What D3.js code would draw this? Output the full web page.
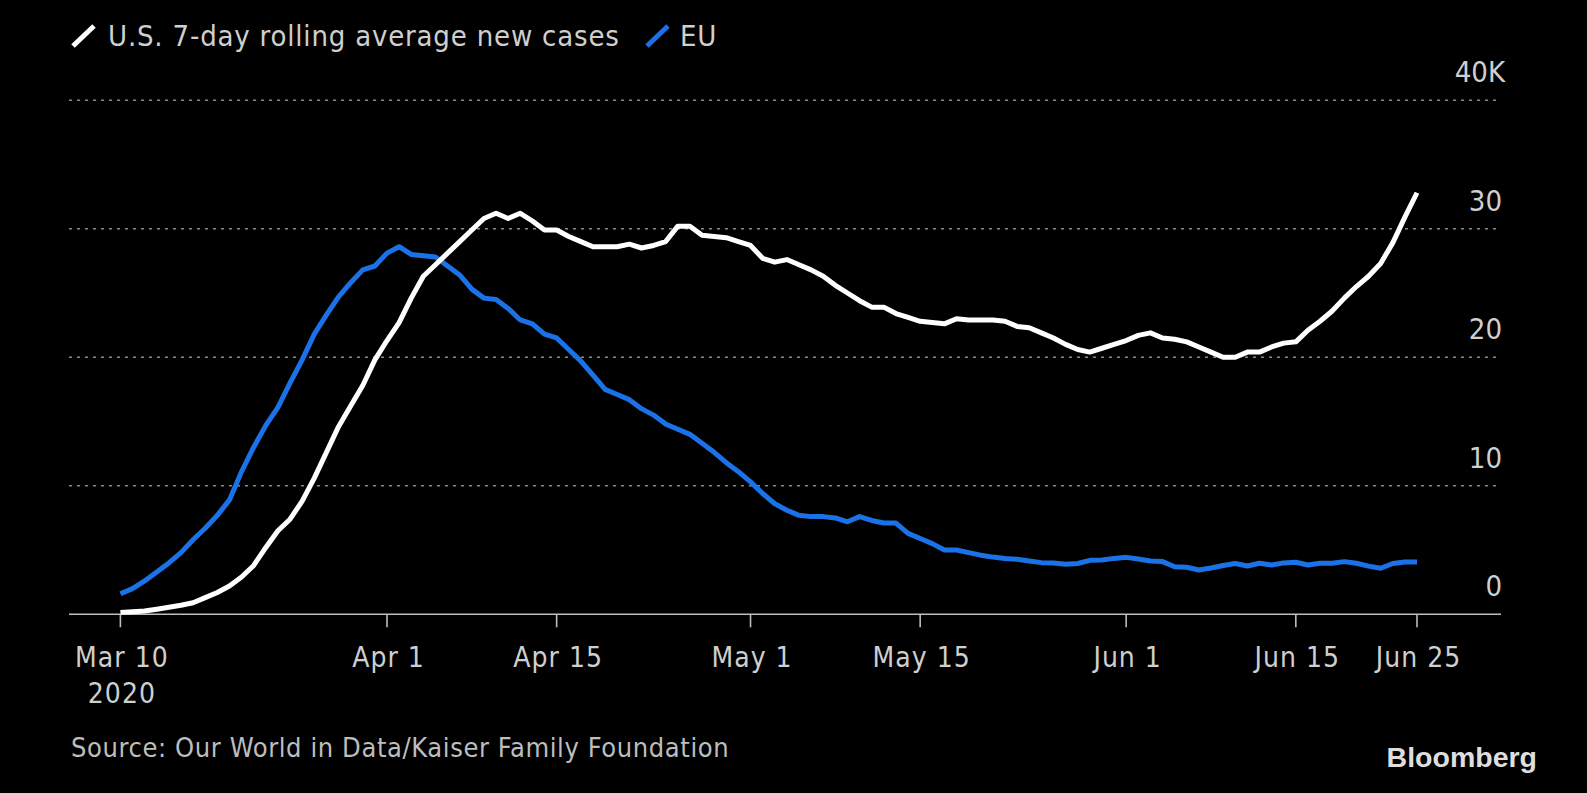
<!DOCTYPE html>
<html lang="en">
<head>
<meta charset="UTF-8">
<title>U.S. vs EU new cases</title>
<style>
    body{ margin:0; background:#000; }
    svg{ display:block; background:#000; }
    text{ font-family:"DejaVu Sans Condensed","DejaVu Sans",sans-serif; font-stretch:condensed; fill:#cfcfcf; }
    .grid line{ stroke:#8a8a8a; stroke-width:1.6; stroke-dasharray:3 5; }
    .baseline{ stroke:#bdbdbd; stroke-width:1.6; }
    .tick{ stroke:#bdbdbd; stroke-width:1.6; }
    .us{ fill:none; stroke:#ffffff; stroke-width:5; stroke-linejoin:round; }
    .eu{ fill:none; stroke:#1b72e8; stroke-width:5; stroke-linejoin:round; }
    .brand{ font-family:"Liberation Sans",Arial,sans-serif; font-weight:bold; font-stretch:normal; fill:#dedede; }
</style>
<script src="https://cdn.jsdelivr.net/npm/d3@7"></script>
</head>
<body>
<script>
    // daily values, thousands of new cases, Mar 10 .. Jun 25 2020
    const startDate = "2020-03-10";
    const usCases = [
        0.15,0.2,0.25,0.4,0.55,0.7,0.9,1.3,1.7,2.2,
        2.9,3.8,5.2,6.5,7.4,8.8,10.6,12.6,14.6,16.2,
        17.8,19.8,21.3,22.7,24.6,26.3,27.2,28.1,29.0,29.9,
        30.8,31.2,30.8,31.2,30.6,29.9,29.9,29.4,29.0,28.6,
        28.6,28.6,28.8,28.5,28.7,29.0,30.2,30.2,29.5,29.4,
        29.3,29.0,28.7,27.7,27.4,27.6,27.2,26.8,26.3,25.6,
        25.0,24.4,23.9,23.9,23.4,23.1,22.8,22.7,22.6,23.0,
        22.9,22.9,22.9,22.8,22.4,22.3,21.9,21.5,21.0,20.6,
        20.4,20.7,21.0,21.3,21.7,21.9,21.5,21.4,21.2,20.8,
        20.4,20.0,20.0,20.4,20.4,20.8,21.1,21.2,22.1,22.8,
        23.6,24.6,25.5,26.3,27.3,28.9,30.9,32.8
    ];
    const euCases = [
        1.6,2.0,2.6,3.3,4.0,4.8,5.8,6.7,7.7,8.9,
        11.1,13.0,14.7,16.1,18.0,19.8,21.8,23.3,24.7,25.8,
        26.8,27.1,28.1,28.6,28.0,27.9,27.8,27.1,26.4,25.3,
        24.6,24.5,23.8,22.9,22.6,21.8,21.5,20.6,19.7,18.6,
        17.5,17.1,16.7,16.0,15.5,14.8,14.4,14.0,13.3,12.6,
        11.8,11.1,10.3,9.4,8.6,8.1,7.7,7.6,7.6,7.5,
        7.2,7.6,7.3,7.1,7.1,6.3,5.9,5.5,5.0,5.0,
        4.8,4.6,4.45,4.35,4.28,4.15,4.02,4.0,3.9,3.95,
        4.2,4.23,4.35,4.43,4.3,4.15,4.1,3.7,3.66,3.45,
        3.6,3.8,3.95,3.76,3.97,3.84,4.0,4.05,3.84,3.97,
        3.97,4.1,3.97,3.75,3.58,3.95,4.07,4.07
    ];
    const xTicks = ["2020-03-10","2020-04-01","2020-04-15","2020-05-01","2020-05-15","2020-06-01","2020-06-15","2020-06-25"];
    const xTickLabels = ["Mar 10","Apr 1","Apr 15","May 1","May 15","Jun 1","Jun 15","Jun 25"];
    const yTicks = [0,10,20,30,40];
    const seriesNames = ["U.S. 7-day rolling average new cases","EU"];

    const width = 1587, height = 793;
    const svg = d3.select("body").append("svg")
        .attr("width", width).attr("height", height)
        .attr("viewBox", `0,0,${width},${height}`);

    const parse = d3.utcParse("%Y-%m-%d");
    const t0 = parse(startDate);
    const days = usCases.map((d, i) => d3.utcDay.offset(t0, i));

    const x = d3.scaleUtc()
        .domain([t0, parse("2020-06-25")])
        .range([120.4, 1417]);
    const y = d3.scaleLinear()
        .domain([0, 40])
        .range([614.3, 100.2]);

    const gridLeft = 69, gridRight = 1501;

    // dotted gridlines
    svg.append("g").attr("class", "grid")
        .selectAll("line")
        .data(yTicks.filter(d => d > 0))
        .enter().append("line")
        .attr("x1", gridLeft).attr("x2", gridRight)
        .attr("y1", d => y(d)).attr("y2", d => y(d));

    // y labels on the right, top one carries the unit
    svg.append("g").selectAll("text")
        .data(yTicks)
        .enter().append("text")
        .attr("x", d => d === 40 ? 1505 : 1502)
        .attr("y", d => y(d) - 18)
        .attr("text-anchor", "end")
        .style("font-size", "29px")
        .text(d => d === 40 ? d + "K" : d);

    // baseline + ticks
    svg.append("line").attr("class", "baseline")
        .attr("x1", gridLeft).attr("x2", gridRight)
        .attr("y1", y(0)).attr("y2", y(0));
    svg.append("g").selectAll("line")
        .data(xTicks)
        .enter().append("line")
        .attr("class", "tick")
        .attr("x1", d => x(parse(d))).attr("x2", d => x(parse(d)))
        .attr("y1", y(0)).attr("y2", y(0) + 13);

    svg.append("g").selectAll("text")
        .data(xTicks)
        .enter().append("text")
        .attr("x", d => x(parse(d)) + 1.5)
        .attr("y", 667)
        .attr("text-anchor", "middle")
        .style("font-size", "28px")
        .style("letter-spacing", "1px")
        .text((d, i) => xTickLabels[i]);
    svg.append("text")
        .attr("x", x(t0) + 1.5).attr("y", 703)
        .attr("text-anchor", "middle")
        .style("font-size", "28px")
        .style("letter-spacing", "1px")
        .text("2020");

    // lines
    const line = d3.line()
        .x((d, i) => x(days[i]))
        .y(d => y(d));
    svg.append("path").attr("class", "eu").attr("d", line(euCases));
    svg.append("path").attr("class", "us").attr("d", line(usCases));

    // legend
    const legend = svg.append("g");
    legend.append("line")
        .attr("x1", 73).attr("y1", 46).attr("x2", 94).attr("y2", 26)
        .attr("stroke", "#fff").attr("stroke-width", 5);
    legend.append("text")
        .attr("x", 108).attr("y", 46)
        .style("font-size", "29px")
        .style("letter-spacing", "0.8px")
        .text(seriesNames[0]);
    legend.append("line")
        .attr("x1", 647).attr("y1", 46).attr("x2", 668).attr("y2", 26)
        .attr("stroke", "#1b72e8").attr("stroke-width", 5);
    legend.append("text")
        .attr("x", 680).attr("y", 46)
        .style("font-size", "29px")
        .style("letter-spacing", "0.8px")
        .text(seriesNames[1]);

    // footer
    svg.append("text")
        .attr("x", 71).attr("y", 757)
        .style("font-size", "27px")
        .style("letter-spacing", "0.6px")
        .style("fill", "#bdbdbd")
        .text("Source: Our World in Data/Kaiser Family Foundation");
    svg.append("text")
        .attr("class", "brand")
        .attr("x", 1537).attr("y", 767)
        .attr("text-anchor", "end")
        .style("font-size", "28.5px")
        .text("Bloomberg");
</script>
</body>
</html>
